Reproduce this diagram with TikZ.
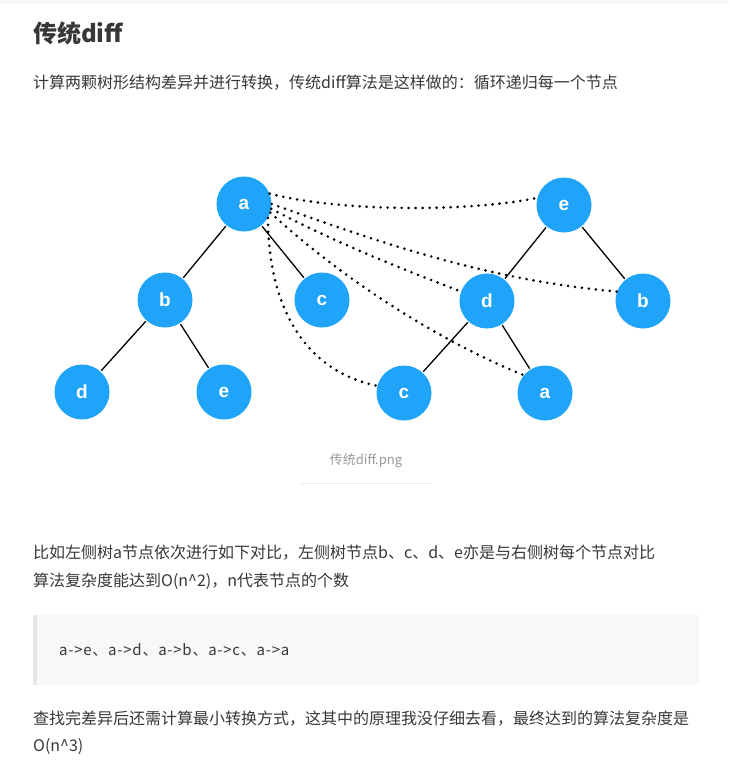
\documentclass[tikz,border=0pt]{standalone}
\usepackage{fontspec}
\newfontfamily\cjk{Noto Sans CJK SC}
\newfontfamily\codefont[LetterSpace=5]{Noto Sans CJK SC}
\newfontfamily\nodefont{Liberation Sans}
\definecolor{nodeblue}{RGB}{32,164,250}
\definecolor{txt}{HTML}{383838}
\definecolor{captxt}{HTML}{999999}
\definecolor{codebg}{HTML}{F8F8F8}
\definecolor{codebar}{HTML}{E6E6E6}
\definecolor{rule}{HTML}{EEEEEE}
\tikzset{
  tnode/.style={circle, fill=nodeblue, minimum size=55pt, inner sep=0pt, text=white, font=\nodefont\bfseries\fontsize{19}{19}\selectfont},
  tedge/.style={line width=1.3pt, black, shorten <=1pt, shorten >=1pt},
  dotcurve/.style={line width=2.9pt, dash pattern=on 0pt off 7pt, line cap=round, black},
  para/.style={anchor=west, inner sep=0pt, text=txt, font=\cjk\fontsize{16}{16}\selectfont},
}
\begin{document}
\begin{tikzpicture}[x=1pt,y=-1pt]
\useasboundingbox (0,0) rectangle (729,771);
\fill[white] (0,0) rectangle (729,771);
\fill[black!3] (0,0) rectangle (729,4);
% title and text
\node[para, font=\cjk\bfseries\fontsize{24}{24}\selectfont] (title) at (33,33) {传统diff};
\node[para] (p1) at (33,83) {计算两颗树形结构差异并进行转换，传统diff算法是这样做的：循环递归每一个节点};
% left tree
\node[tnode] (La) at (244,204) {a};
\node[tnode] (Lb) at (165,300) {b};
\node[tnode] (Lc) at (322,300) {c};
\node[tnode] (Ld) at (82,392) {d};
\node[tnode] (Le) at (224,392) {e};
% right tree
\node[tnode] (Re) at (564,205) {e};
\node[tnode] (Rd) at (487,301) {d};
\node[tnode] (Rb) at (643,301) {b};
\node[tnode] (Rc) at (404,393) {c};
\node[tnode] (Ra) at (545,393) {a};
% edges
\draw[tedge] (La) -- (Lb);
\draw[tedge] (La) -- (Lc);
\draw[tedge] (Lb) -- (Ld);
\draw[tedge] (Lb) -- (Le);
\draw[tedge] (Re) -- (Rd);
\draw[tedge] (Re) -- (Rb);
\draw[tedge] (Rd) -- (Rc);
\draw[tedge] (Rd) -- (Ra);
% dotted comparisons
\draw[dotcurve] (La.22) .. controls (340,212) and (470,212) .. (Re.165);
\draw[dotcurve] (La.0) .. controls (360,235) and (480,280) .. (Rb.160);
\draw[dotcurve] (La.-10) .. controls (340,245) and (410,272) .. (Rd.160);
\draw[dotcurve] (La.-18) .. controls (330,268) and (425,335) .. (Ra.140);
\draw[dotcurve] (La.-30) .. controls (268,300) and (300,370) .. (Rc.165);
% caption
\node[inner sep=0pt, text=captxt, font=\cjk\fontsize{13}{13}\selectfont] (cap) at (366,461) {传统diff.png};
\draw[rule, line width=1pt] (299,483) coordinate (r1) -- (432,483) coordinate (r2);
% paragraph 2
\node[para] (p2) at (33,553) {比如左侧树a节点依次进行如下对比，左侧树节点b、c、d、e亦是与右侧树每个节点对比};
\node[para] (p3) at (33,581) {算法复杂度能达到O(n\^{}2)，n代表节点的个数};
% code block
\fill[codebg] (33,615) rectangle (699,685);
\fill[codebar] (33,615) rectangle (37,685);
\node[para, font=\codefont\fontsize{15}{15}\selectfont] (code) at (59,650) {a->e、a->d、a->b、a->c、a->a};
% paragraph 3
\node[para] (p4) at (33,719) {查找完差异后还需计算最小转换方式，这其中的原理我没仔细去看，最终达到的算法复杂度是};
\node[para] (p5) at (33,747) {O(n\^{}3)};
\end{tikzpicture}
\end{document}
